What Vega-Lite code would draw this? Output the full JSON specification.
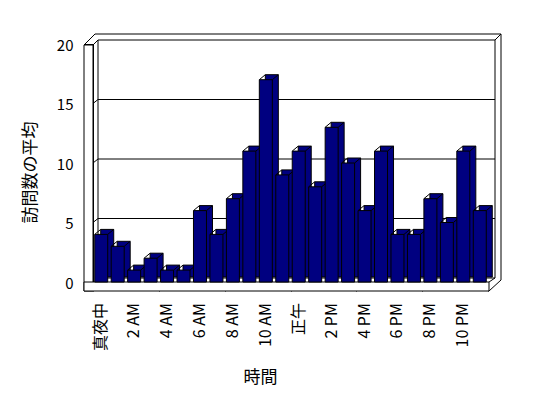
{
  "$schema": "https://vega.github.io/schema/vega-lite/v6.json",
  "width": 395,
  "height": 238,
  "autosize": "none",
  "padding": {"left": 93, "top": 44, "right": 60, "bottom": 116},
  "background": "white",
  "config": {
    "view": {"stroke": null},
    "font": "Noto Sans CJK JP",
    "axis": {
      "tickColor": "black", "domainColor": "black", "grid": false, "tickSize": 9,
      "labelColor": "black", "labelFontSize": 15, "labelFont": "Noto Sans CJK JP",
      "titleColor": "black", "titleFontSize": 17, "titleFontWeight": "normal", "titleFont": "Noto Sans CJK JP",
      "labelBound": false, "labelFlush": false, "zindex": 1
    },
    "axisX": {
      "labels": false,
      "titleX": 167, "titleY": 95, "titleAlign": "center", "titleBaseline": "middle"
    },
    "axisY": {
      "labelPadding": 11, "labelOffset": 1, "labelBaseline": "middle",
      "titleAngle": -90, "titleX": -63, "titleY": 128, "titleAlign": "center", "titleBaseline": "middle"
    }
  },
  "data": {"values": [
    {"hour": 0, "label": "真夜中", "visits": 4}, {"hour": 1, "label": "1 AM", "visits": 3},
    {"hour": 2, "label": "2 AM", "visits": 1}, {"hour": 3, "label": "3 AM", "visits": 2},
    {"hour": 4, "label": "4 AM", "visits": 1}, {"hour": 5, "label": "5 AM", "visits": 1},
    {"hour": 6, "label": "6 AM", "visits": 6}, {"hour": 7, "label": "7 AM", "visits": 4},
    {"hour": 8, "label": "8 AM", "visits": 7}, {"hour": 9, "label": "9 AM", "visits": 11},
    {"hour": 10, "label": "10 AM", "visits": 17}, {"hour": 11, "label": "11 AM", "visits": 9},
    {"hour": 12, "label": "正午", "visits": 11}, {"hour": 13, "label": "1 PM", "visits": 8},
    {"hour": 14, "label": "2 PM", "visits": 13}, {"hour": 15, "label": "3 PM", "visits": 10},
    {"hour": 16, "label": "4 PM", "visits": 6}, {"hour": 17, "label": "5 PM", "visits": 11},
    {"hour": 18, "label": "6 PM", "visits": 4}, {"hour": 19, "label": "7 PM", "visits": 4},
    {"hour": 20, "label": "8 PM", "visits": 7}, {"hour": 21, "label": "9 PM", "visits": 5},
    {"hour": 22, "label": "10 PM", "visits": 11}, {"hour": 23, "label": "11 PM", "visits": 6}
  ]},
  "layer": [
    {
      "data": {"values": [{}]},
      "mark": {"type": "rect", "fill": "white", "stroke": "black", "strokeWidth": 1, "xOffset": 5, "x2Offset": 7, "yOffset": -4, "y2Offset": -4},
      "encoding": {
        "x": {"datum": -0.5, "type": "quantitative", "scale": {"domain": [-0.5, 23.5], "nice": false, "zero": false, "padding": 0}},
        "x2": {"datum": 23.5},
        "y": {"datum": 20, "type": "quantitative", "scale": {"domain": [0, 20], "nice": false, "padding": 0}},
        "y2": {"datum": 0}
      }
    },
    {
      "data": {"values": [{"g": 5}, {"g": 10}, {"g": 15}]},
      "mark": {"type": "rule", "color": "black", "strokeWidth": 1, "xOffset": 5, "x2Offset": 7, "yOffset": -4},
      "encoding": {
        "x": {"datum": -0.5, "type": "quantitative"},
        "x2": {"datum": 23.5},
        "y": {"field": "g", "type": "quantitative"}
      }
    },
    {
      "data": {"values": [{"g": 5}, {"g": 10}, {"g": 15}]},
      "mark": {"type": "rule", "color": "black", "strokeWidth": 1, "xOffset": 0, "x2Offset": 5, "yOffset": 0, "y2Offset": -4},
      "encoding": {
        "x": {"datum": -0.5, "type": "quantitative"},
        "x2": {"datum": -0.5},
        "y": {"field": "g", "type": "quantitative"},
        "y2": {"field": "g"}
      }
    },
    {
      "data": {"values": [{}]},
      "mark": {"type": "rule", "color": "black", "strokeWidth": 1, "xOffset": 2, "x2Offset": 13, "yOffset": -10},
      "encoding": {
        "x": {"datum": -0.5, "type": "quantitative"},
        "x2": {"datum": 23.5},
        "y": {"datum": 20, "type": "quantitative"}
      }
    },
    {
      "data": {"values": [{}]},
      "mark": {"type": "rule", "color": "black", "strokeWidth": 1, "xOffset": 13, "yOffset": -10, "y2Offset": -2},
      "encoding": {
        "x": {"datum": 23.5, "type": "quantitative"},
        "y": {"datum": 20, "type": "quantitative"},
        "y2": {"datum": 0}
      }
    },
    {
      "data": {"values": [{}]},
      "mark": {"type": "rule", "color": "black", "strokeWidth": 1, "xOffset": 7, "x2Offset": 13, "yOffset": -4, "y2Offset": -10},
      "encoding": {
        "x": {"datum": 23.5, "type": "quantitative"},
        "x2": {"datum": 23.5},
        "y": {"datum": 20, "type": "quantitative"},
        "y2": {"datum": 20}
      }
    },
    {
      "data": {"values": [{}]},
      "mark": {"type": "rule", "color": "black", "strokeWidth": 1, "xOffset": -9, "x2Offset": 2, "yOffset": 1, "y2Offset": -10},
      "encoding": {
        "x": {"datum": -0.5, "type": "quantitative"},
        "x2": {"datum": -0.5},
        "y": {"datum": 20, "type": "quantitative"},
        "y2": {"datum": 20}
      }
    },
    {
      "data": {"values": [{}]},
      "mark": {"type": "rule", "color": "black", "strokeWidth": 1, "xOffset": 0, "x2Offset": 5, "yOffset": 1, "y2Offset": -4},
      "encoding": {
        "x": {"datum": -0.5, "type": "quantitative"},
        "x2": {"datum": -0.5},
        "y": {"datum": 20, "type": "quantitative"},
        "y2": {"datum": 20}
      }
    },
    {
      "data": {"values": [{}]},
      "mark": {"type": "rect", "fill": "white", "stroke": "black", "strokeWidth": 1, "xOffset": -9, "x2Offset": 0, "yOffset": 1, "y2Offset": 9},
      "encoding": {
        "x": {"datum": -0.5, "type": "quantitative"},
        "x2": {"datum": -0.5},
        "y": {"datum": 20, "type": "quantitative"},
        "y2": {"datum": 0}
      }
    },
    {
      "data": {"values": [{}]},
      "mark": {"type": "rect", "fill": "white", "stroke": "black", "strokeWidth": 1, "xOffset": -9, "x2Offset": 1, "yOffset": 0, "y2Offset": 9},
      "encoding": {
        "x": {"datum": -0.5, "type": "quantitative"},
        "x2": {"datum": 23.5},
        "y": {"datum": 0, "type": "quantitative"},
        "y2": {"datum": 0}
      }
    },
    {
      "data": {"values": [{}]},
      "mark": {"type": "rule", "color": "black", "strokeWidth": 1, "xOffset": 1, "x2Offset": 13, "yOffset": 9, "y2Offset": -2},
      "encoding": {
        "x": {"datum": 23.5, "type": "quantitative"},
        "x2": {"datum": 23.5},
        "y": {"datum": 0, "type": "quantitative"},
        "y2": {"datum": 0}
      }
    },
    {
      "data": {"values": [{}]},
      "mark": {"type": "rule", "color": "black", "strokeWidth": 1, "xOffset": 1, "x2Offset": 7, "yOffset": 0, "y2Offset": -4},
      "encoding": {
        "x": {"datum": 23.5, "type": "quantitative"},
        "x2": {"datum": 23.5},
        "y": {"datum": 0, "type": "quantitative"},
        "y2": {"datum": 0}
      }
    },
    {
      "mark": {"type": "bar", "width": 13, "fill": "#000080", "stroke": "black", "strokeWidth": 1, "xOffset": 6, "yOffset": -5},
      "encoding": {
        "x": {"field": "hour", "type": "quantitative", "scale": {"padding": 0}},
        "y": {"field": "visits", "type": "quantitative"}
      }
    },
    {
      "mark": {"type": "rule", "color": "black", "strokeWidth": 1, "xOffset": -6.5, "x2Offset": -0.5, "y2Offset": -5},
      "encoding": {
        "x": {"field": "hour", "type": "quantitative"},
        "x2": {"field": "hour"},
        "y": {"field": "visits", "type": "quantitative"},
        "y2": {"field": "visits"}
      }
    },
    {
      "mark": {"type": "rule", "color": "black", "strokeWidth": 1, "xOffset": 6.5, "x2Offset": 12.5, "y2Offset": -5},
      "encoding": {
        "x": {"field": "hour", "type": "quantitative"},
        "x2": {"field": "hour"},
        "y": {"field": "visits", "type": "quantitative"},
        "y2": {"field": "visits"}
      }
    },
    {
      "transform": [{"filter": "datum.hour % 2 == 0"}],
      "mark": {"type": "text", "angle": 270, "align": "right", "baseline": "middle", "fontSize": 16, "font": "Noto Sans CJK JP", "color": "black", "yOffset": 21},
      "encoding": {
        "x": {"field": "hour", "type": "quantitative"},
        "y": {"datum": 0, "type": "quantitative"},
        "text": {"field": "label"}
      }
    },
    {
      "mark": {"type": "bar", "width": 13, "fill": "#000080", "stroke": "black", "strokeWidth": 1},
      "encoding": {
        "x": {
          "field": "hour", "type": "quantitative", "scale": {"padding": 0},
          "axis": {
            "values": [-0.5, 0.5, 1.5, 2.5, 3.5, 4.5, 5.5, 6.5, 7.5, 8.5, 9.5, 10.5, 11.5, 12.5, 13.5, 14.5, 15.5, 16.5, 17.5, 18.5, 19.5, 20.5, 21.5, 22.5, 23.5],
            "labels": false,
            "title": "時間"
          }
        },
        "y": {
          "field": "visits", "type": "quantitative",
          "axis": {
            "values": [0, 5, 10, 15, 20],
            "title": "訪問数の平均"
          }
        }
      }
    }
  ]
}
